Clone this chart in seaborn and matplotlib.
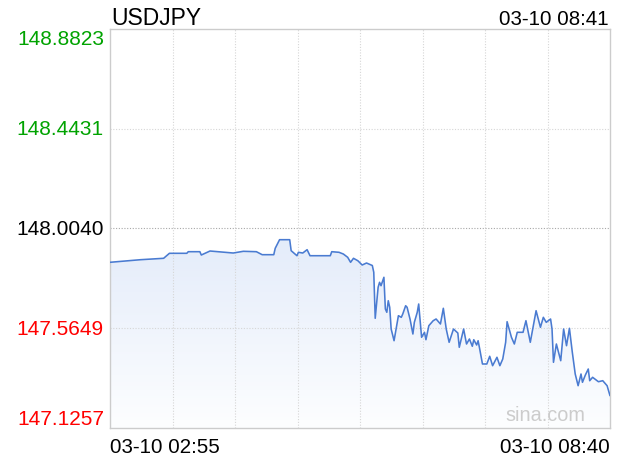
import numpy as np
import pandas as pd
import matplotlib
matplotlib.use("Agg")
import matplotlib.pyplot as plt
import matplotlib.transforms as mtransforms
from matplotlib.colors import LinearSegmentedColormap
import seaborn as sns

# ---------------- data ----------------
symbol = "USDJPY"
stamp = "03-10 08:41"
start_label = "03-10 02:55"
end_label = "03-10 08:40"
watermark = "sina.com"
y_ticks = [148.8823, 148.4431, 148.0040, 147.5649, 147.1257]
y_tick_labels = ["148.8823", "148.4431", "148.0040", "147.5649", "147.1257"]
prev_close = 148.0040
session_minutes = 345  # 02:55 -> 08:40

minutes = [0, 21, 37, 41, 53, 54, 62, 63, 69, 85, 92, 101, 105, 113, 114, 117,
           124, 125, 129, 130, 133, 136, 138, 152, 153, 158, 161, 164, 166, 168,
           171, 174, 177, 181,
           182, 183, 185, 186, 187, 189, 190, 191, 192, 193, 194, 196, 199, 201,
           202, 204, 205, 207, 209, 210, 212, 213, 215, 217, 218, 220, 223, 225,
           228, 230, 232, 234, 237, 240, 241, 244, 246, 248, 250, 251, 253, 254,
           255,
           257, 260, 262, 264, 267, 269, 271, 273, 274, 277, 279, 281, 285, 287,
           290, 294, 297, 299, 301, 304, 305, 306, 308, 311, 313, 315, 317, 319,
           321, 323, 325, 326, 328, 330, 331, 333, 337, 340, 343, 345]
prices = [147.8552, 147.8666, 147.8728, 147.8948, 147.8948, 147.9019, 147.9019,
          147.8873, 147.9049, 147.8961, 147.9036, 147.9019, 147.8887, 147.8887,
          147.9168, 147.9547, 147.9547, 147.9063, 147.8842, 147.8992, 147.8961,
          147.9107, 147.8842, 147.8842, 147.9019, 147.8992, 147.8917, 147.8772,
          147.8552, 147.8728, 147.8622, 147.8433, 147.8521, 147.8411,
          147.8112, 147.6086, 147.7451, 147.7671, 147.7522, 147.7892, 147.6496,
          147.6351, 147.6861, 147.6571, 147.5615, 147.5100, 147.6201, 147.6130,
          147.6276, 147.6641, 147.6571, 147.6056, 147.5395, 147.5910, 147.6351,
          147.6716, 147.5250, 147.5470, 147.5144, 147.5761, 147.5981, 147.6056,
          147.5836, 147.6527, 147.5615, 147.5030, 147.5615, 147.5439, 147.4810,
          147.5615, 147.4955, 147.5175, 147.4854, 147.5144, 147.4911, 147.5100,
          147.4766,
          147.4075, 147.4075, 147.4414, 147.4000, 147.4370, 147.4000, 147.4295,
          147.5030, 147.5937, 147.5250, 147.4955, 147.5470, 147.5470, 147.5981,
          147.5030, 147.6421, 147.5690, 147.6130, 147.5910, 147.6056, 147.5615,
          147.4149, 147.4955, 147.4220, 147.5615, 147.4880, 147.5646, 147.4590,
          147.3634, 147.3119, 147.3634, 147.3269, 147.3590, 147.3854, 147.3339,
          147.3489, 147.3295, 147.3339, 147.3119, 147.2679]

df = pd.DataFrame({"minute": minutes, "price": prices})

# ---------------- style ----------------
sns.set_style("white")
plt.rcParams['font.family'] = ['Liberation Sans', 'DejaVu Sans']

W, H = 620, 460
fig = plt.figure(figsize=(W / 100, H / 100), dpi=100)
ax = fig.add_axes([110 / W, 31 / H, 500 / W, 399 / H])

ymin, ymax = min(y_ticks), max(y_ticks)

# gradient fill under the line
poly = ax.fill_between(df["minute"], df["price"], ymin, color="none", lw=0)
cmap = LinearSegmentedColormap.from_list("fill", ["#fdfeff", "#e4ecfa"])
grad = np.linspace(0, 1, 256).reshape(-1, 1)
img = ax.imshow(grad, extent=[0, session_minutes, ymin, max(prices)],
                aspect="auto", cmap=cmap, origin="lower", zorder=1,
                interpolation="bicubic")
img.set_clip_path(poly.get_paths()[0], transform=ax.transData)

sns.lineplot(data=df, x="minute", y="price", ax=ax, color="#4a7bd1",
             linewidth=1.15, zorder=3, sort=False)

# grid
for k in range(1, 8):
    ax.axvline(session_minutes * k / 8, color="#d6d6d6", lw=0.8,
               ls=(0, (1, 1.5)), zorder=2)
for v in y_ticks[1:-1]:
    col = "#a8a8a8" if v == prev_close else "#d6d6d6"
    ax.axhline(v, color=col, lw=0.8, ls=(0, (1, 1.5)), zorder=2)

ax.set_xlim(0, session_minutes)
ax.set_ylim(ymin, ymax)
ax.set_xticks([])
ax.set_yticks([])
ax.set_xlabel("")
ax.set_ylabel("")
for s in ax.spines.values():
    s.set_color("#cccccc")
    s.set_linewidth(1.0)
    s.set_visible(True)

# y labels
ytr = ax.get_yaxis_transform()
for i, (v, lab) in enumerate(zip(y_ticks, y_tick_labels)):
    if v > prev_close:
        col = "#00a300"
    elif v < prev_close:
        col = "#ff0000"
    else:
        col = "#000000"
    va = "top" if i == 0 else ("bottom" if i == len(y_ticks) - 1 else "center")
    off = mtransforms.ScaledTranslation(-6 / 100, 0, fig.dpi_scale_trans)
    ax.text(0, v, lab, transform=ytr + off, ha="right", va=va,
            fontsize=15, color=col)

# header & footer text
def px(x, y):
    return x / W, 1 - y / H

fig.text(*px(111, 25), symbol, fontsize=16.5, ha="left", va="baseline",
         color="#000000")
fig.text(*px(609, 25), stamp, fontsize=14.8, ha="right", va="baseline",
         color="#000000")
fig.text(*px(110, 453), start_label, fontsize=14.8, ha="left",
         va="baseline", color="#000000")
fig.text(*px(610, 453), end_label, fontsize=14.8, ha="right",
         va="baseline", color="#000000")
fig.text(*px(585, 421), watermark, fontsize=14.3, ha="right",
         va="baseline", color="#cccccc")

fig.savefig("out.png", dpi=100, facecolor="white")
